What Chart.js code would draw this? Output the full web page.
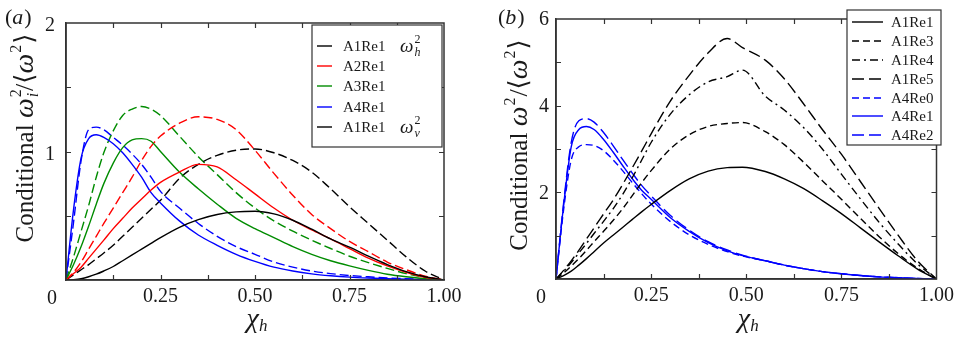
<!DOCTYPE html>
<html>
<head>
<meta charset="utf-8">
<script src="https://cdn.jsdelivr.net/npm/chart.js@4.4.1/dist/chart.umd.min.js"></script>
<style>
  body { margin: 0; background: #fff; }
  #wrap { position: relative; width: 959px; height: 339px; }
  canvas { position: absolute; top: 0; }
</style>
</head>
<body>
<div id="wrap">
  <canvas id="chartA" width="480" height="339" style="left:0"></canvas>
  <canvas id="chartB" width="479" height="339" style="left:480px"></canvas>
</div>
<script>
// panel (a): x grid and conditional enstrophy curves
const chiA = [0, 0.02, 0.04, 0.06, 0.08, 0.1, 0.125, 0.15, 0.175, 0.2, 0.225, 0.25, 0.3, 0.35, 0.4, 0.45, 0.5, 0.55, 0.6, 0.65, 0.7, 0.75, 0.8, 0.85, 0.9, 0.95, 1];
const a1Re1H = [0, 0.003, 0.01, 0.025, 0.045, 0.07, 0.105, 0.15, 0.195, 0.24, 0.285, 0.33, 0.41, 0.47, 0.51, 0.53, 0.535, 0.515, 0.465, 0.395, 0.32, 0.255, 0.185, 0.12, 0.065, 0.025, 0];
const a2Re1H = [0, 0.05, 0.1, 0.17, 0.24, 0.31, 0.4, 0.48, 0.56, 0.63, 0.7, 0.76, 0.84, 0.9, 0.88, 0.78, 0.67, 0.56, 0.465, 0.39, 0.32, 0.245, 0.17, 0.11, 0.06, 0.02, 0];
const a3Re1H = [0, 0.12, 0.26, 0.42, 0.59, 0.75, 0.91, 1.03, 1.09, 1.1, 1.08, 1.0, 0.84, 0.71, 0.59, 0.48, 0.4, 0.33, 0.26, 0.2, 0.15, 0.11, 0.075, 0.045, 0.025, 0.01, 0];
const a4Re1H = [0, 0.55, 0.95, 1.1, 1.13, 1.11, 1.06, 0.99, 0.9, 0.8, 0.68, 0.6, 0.46, 0.35, 0.27, 0.2, 0.145, 0.1, 0.07, 0.048, 0.033, 0.022, 0.015, 0.01, 0.006, 0.003, 0];
const a1Re1V = [0, 0.04, 0.08, 0.12, 0.165, 0.21, 0.27, 0.34, 0.41, 0.48, 0.55, 0.62, 0.79, 0.9, 0.97, 1.01, 1.02, 0.99, 0.93, 0.84, 0.71, 0.57, 0.44, 0.31, 0.18, 0.07, 0];
const a2Re1V = [0, 0.06, 0.14, 0.24, 0.34, 0.44, 0.56, 0.68, 0.8, 0.93, 1.04, 1.12, 1.22, 1.27, 1.25, 1.17, 1.01, 0.83, 0.66, 0.51, 0.4, 0.3, 0.22, 0.14, 0.08, 0.03, 0];
const a3Re1V = [0, 0.18, 0.38, 0.58, 0.8, 0.99, 1.16, 1.28, 1.33, 1.35, 1.33, 1.28, 1.12, 0.96, 0.82, 0.68, 0.56, 0.46, 0.38, 0.31, 0.245, 0.185, 0.135, 0.09, 0.05, 0.02, 0];
const a4Re1V = [0, 0.45, 0.93, 1.17, 1.19, 1.17, 1.11, 1.05, 0.98, 0.9, 0.8, 0.69, 0.56, 0.44, 0.34, 0.26, 0.2, 0.14, 0.1, 0.07, 0.05, 0.035, 0.025, 0.015, 0.01, 0.005, 0];

// panel (b): x grid and curves for several Re
const chiB = [0, 0.02, 0.04, 0.06, 0.08, 0.1, 0.125, 0.15, 0.175, 0.2, 0.225, 0.25, 0.3, 0.35, 0.4, 0.45, 0.49, 0.55, 0.6, 0.65, 0.7, 0.75, 0.8, 0.85, 0.9, 0.95, 1];
const b1Re1 = [0, 0.08, 0.18, 0.32, 0.47, 0.63, 0.83, 1.01, 1.19, 1.37, 1.55, 1.72, 2.04, 2.31, 2.49, 2.57, 2.58, 2.48, 2.31, 2.09, 1.81, 1.51, 1.18, 0.85, 0.53, 0.23, 0];
const b1Re3 = [0, 0.14, 0.3, 0.47, 0.66, 0.86, 1.1, 1.35, 1.62, 1.92, 2.22, 2.5, 3.0, 3.33, 3.52, 3.59, 3.61, 3.4, 3.1, 2.7, 2.27, 1.84, 1.4, 0.97, 0.58, 0.25, 0];
const b1Re4 = [0, 0.18, 0.38, 0.6, 0.82, 1.05, 1.33, 1.62, 1.95, 2.33, 2.74, 3.15, 3.8, 4.25, 4.55, 4.67, 4.82, 4.22, 3.9, 3.5, 3.0, 2.42, 1.85, 1.3, 0.8, 0.35, 0];
const b1Re5 = [0, 0.2, 0.42, 0.66, 0.92, 1.18, 1.5, 1.82, 2.18, 2.56, 2.95, 3.35, 4.1, 4.7, 5.22, 5.55, 5.34, 5.05, 4.62, 4.05, 3.45, 2.88, 2.25, 1.62, 1.0, 0.42, 0];
const b4Re0 = [0, 1.6, 2.75, 3.05, 3.1, 3.08, 2.96, 2.75, 2.5, 2.23, 1.97, 1.73, 1.33, 1.02, 0.8, 0.63, 0.53, 0.42, 0.32, 0.24, 0.17, 0.12, 0.08, 0.05, 0.03, 0.01, 0];
const b4Re1 = [0, 1.7, 3.05, 3.45, 3.52, 3.45, 3.22, 2.93, 2.62, 2.32, 2.05, 1.84, 1.42, 1.1, 0.84, 0.65, 0.54, 0.42, 0.32, 0.24, 0.17, 0.12, 0.08, 0.05, 0.03, 0.01, 0];
const b4Re2 = [0, 1.75, 3.15, 3.65, 3.7, 3.62, 3.38, 3.08, 2.76, 2.45, 2.16, 1.92, 1.47, 1.13, 0.86, 0.67, 0.55, 0.42, 0.32, 0.24, 0.17, 0.12, 0.08, 0.05, 0.03, 0.01, 0];

const serif = '"Liberation Serif", "DejaVu Serif", serif';
const ink = '#1a1a1a';

function points(xs, ys) {
    return xs.map((x, i) => ({x: x, y: ys[i]}));
}

function series(label, xs, ys, color, dash, width) {
    return {
        label: label,
        data: points(xs, ys),
        borderColor: color,
        borderDash: dash,
        borderWidth: width,
        pointRadius: 0,
        cubicInterpolationMode: 'monotone',
        fill: false
    };
}

// draws a run of text pieces, each with its own font and vertical shift
function drawPieces(ctx, pieces, x, y) {
    let cx = x;
    pieces.forEach(p => {
        ctx.font = p.font;
        ctx.fillText(p.t, cx, y + (p.dy || 0));
        if (!p.stack) cx += ctx.measureText(p.t).width + (p.gap || 0);
    });
    return cx - x;
}

function piecesWidth(ctx, pieces) {
    let w = 0;
    pieces.forEach(p => {
        ctx.font = p.font;
        if (!p.stack) w += ctx.measureText(p.t).width + (p.gap || 0);
    });
    return w;
}

function ital(size) { return 'italic ' + size + 'px ' + serif; }
function rom(size) { return size + 'px ' + serif; }

// frame, inward ticks, titles, legend
const decorations = {
    id: 'decorations',
    afterDraw(chart) {
        const o = chart.options.plugins.decorations;
        const ctx = chart.ctx;
        const a = chart.chartArea;
        const xs = chart.scales.x, ys = chart.scales.y;
        ctx.save();
        ctx.strokeStyle = '#333';
        ctx.lineWidth = 1.5;
        ctx.strokeRect(a.left, a.top, a.right - a.left, a.bottom - a.top);

        ctx.lineWidth = 1.2;
        ctx.beginPath();
        for (let v = 0.125; v < 1; v += 0.125) {
            const px = Math.round(xs.getPixelForValue(v)) + 0.5;
            ctx.moveTo(px, a.bottom); ctx.lineTo(px, a.bottom - 5);
            ctx.moveTo(px, a.top); ctx.lineTo(px, a.top + 5);
        }
        for (let v = o.yStep; v < ys.max - 1e-9; v += o.yStep) {
            const py = Math.round(ys.getPixelForValue(v)) + 0.5;
            ctx.moveTo(a.left, py); ctx.lineTo(a.left + 5, py);
            ctx.moveTo(a.right, py); ctx.lineTo(a.right - 5, py);
        }
        ctx.stroke();

        ctx.fillStyle = ink;
        ctx.textBaseline = 'alphabetic';

        // corner zero
        ctx.font = rom(20);
        ctx.textAlign = 'center';
        ctx.fillText('0', a.left - o.zeroShift, a.bottom + 24);
        ctx.textAlign = 'left';

        // panel label
        drawPieces(ctx, [
            {t: '(', font: rom(22)},
            {t: o.panel, font: ital(22), gap: 1},
            {t: ')', font: rom(22)}
        ], o.panelX, 24);

        // x title
        const xt = [
            {t: 'χ', font: ital(28)},
            {t: 'h', font: ital(17), dy: 4}
        ];
        const cxm = (a.left + a.right) / 2;
        drawPieces(ctx, xt, cxm - piecesWidth(ctx, xt) / 2 + 2, 327);

        // y title, rotated
        const yt = [{t: 'Conditional ', font: rom(25)}, {t: 'ω', font: ital(28), gap: 1}];
        if (o.subI) {
            yt.push({t: '2', font: rom(16), dy: -12, stack: true});
            yt.push({t: 'i', font: ital(16), dy: 5, gap: 2});
        } else {
            yt.push({t: '2', font: rom(16), dy: -12, gap: 1});
        }
        yt.push({t: '/⟨', font: rom(26)});
        yt.push({t: 'ω', font: ital(28), gap: 1});
        yt.push({t: '2', font: rom(16), dy: -12, gap: 1});
        yt.push({t: '⟩', font: rom(26)});
        ctx.save();
        ctx.translate(o.yTitleX, o.yTitleY);
        ctx.rotate(-Math.PI / 2);
        drawPieces(ctx, yt, -piecesWidth(ctx, yt) / 2, 0);
        ctx.restore();

        // legend box
        const L = o.legend;
        ctx.fillStyle = '#fff';
        ctx.fillRect(L.x, L.y, L.w, L.h);
        ctx.strokeStyle = '#333';
        ctx.lineWidth = 1.2;
        ctx.strokeRect(L.x, L.y, L.w, L.h);
        L.items.forEach((idx, k) => {
            const ds = chart.data.datasets[idx];
            const ry = L.rowY[k];
            ctx.strokeStyle = ds.borderColor;
            ctx.lineWidth = ds.borderWidth;
            ctx.setLineDash(L.dash ? ds.borderDash : []);
            ctx.beginPath();
            ctx.moveTo(L.x + L.s0, ry);
            ctx.lineTo(L.x + L.s0 + L.sLen, ry);
            ctx.stroke();
            ctx.setLineDash([]);
            ctx.fillStyle = ink;
            ctx.font = rom(L.font);
            ctx.textBaseline = 'middle';
            ctx.fillText(ds.label, L.x + L.t0, ry + 1);
            ctx.textBaseline = 'alphabetic';
        });
        if (L.omega) {
            L.omega.forEach(w => {
                drawPieces(ctx, [{t: 'ω', font: ital(19), gap: 1},
                    {t: '2', font: rom(12), dy: -9, stack: true},
                    {t: w.sub, font: ital(12), dy: 4}], L.x + w.x, w.y);
            });
        }
        ctx.restore();
    }
};

function axisOptions(ymax, ystep, labelY, yWidth, xHeight, yPad, yShift) {
    return {
        x: {
            type: 'linear', min: 0, max: 1,
            afterBuildTicks: s => { s.ticks = [0, 0.125, 0.25, 0.375, 0.5, 0.625, 0.75, 0.875, 1].map(v => ({value: v})); },
            afterFit: s => { s.height = xHeight; },
            grid: {display: false, drawTicks: false},
            border: {display: true, color: '#333', width: 1.5},
            ticks: {
                autoSkip: false, maxRotation: 0, padding: 5, color: ink,
                font: {family: serif, size: 20},
                callback: v => ({0.25: '0.25', 0.5: '0.50', 0.75: '0.75', 1: '1.00'}[v] || '')
            }
        },
        y: {
            type: 'linear', min: 0, max: ymax,
            afterBuildTicks: s => {
                const t = [];
                for (let v = 0; v <= ymax + 1e-9; v += ystep) t.push({value: v});
                s.ticks = t;
            },
            afterFit: s => { s.width = yWidth; },
            grid: {display: false, drawTicks: false},
            border: {display: true, color: '#333', width: 1.5},
            ticks: {
                autoSkip: false, padding: yPad, color: ink, labelOffset: yShift,
                font: {family: serif, size: 20},
                callback: v => (labelY.includes(v) ? String(v) : '')
            }
        }
    };
}

function createPanelA() {
    const ctx = document.getElementById('chartA').getContext('2d');
    return new Chart(ctx, {
        type: 'line',
        data: {
            datasets: [
                series('A1Re1', chiA, a1Re1H, '#000000', [], 1.4),
                series('A2Re1', chiA, a2Re1H, '#ff0000', [], 1.4),
                series('A3Re1', chiA, a3Re1H, '#008c00', [], 1.4),
                series('A4Re1', chiA, a4Re1H, '#0000ff', [], 1.4),
                series('A1Re1', chiA, a1Re1V, '#000000', [9, 4], 1.4),
                series('A2Re1', chiA, a2Re1V, '#ff0000', [9, 4], 1.4),
                series('A3Re1', chiA, a3Re1V, '#008c00', [9, 4], 1.4),
                series('A4Re1', chiA, a4Re1V, '#0000ff', [9, 4], 1.4)
            ]
        },
        options: {
            responsive: false, animation: false,
            layout: {padding: {top: 16, right: 36, left: 0, bottom: 0}},
            scales: axisOptions(2, 0.5, [1, 2], 66, 59, 11, 3),
            plugins: {
                legend: {display: false}, tooltip: {enabled: false},
                decorations: {
                    panel: 'a', panelX: 5, yStep: 0.5, zeroShift: 14, subI: true,
                    yTitleX: 33, yTitleY: 138,
                    legend: {
                        x: 312, y: 25, w: 130, h: 122, s0: 5, sLen: 15, t0: 31, font: 15,
                        items: [0, 1, 2, 3, 4], rowY: [46, 66, 86, 107, 127], dash: false,
                        omega: [{sub: 'h', x: 88, y: 52}, {sub: 'v', x: 88, y: 133}]
                    }
                }
            }
        },
        plugins: [decorations]
    });
}

function createPanelB() {
    const ctx = document.getElementById('chartB').getContext('2d');
    return new Chart(ctx, {
        type: 'line',
        data: {
            datasets: [
                series('A1Re1', chiB, b1Re1, '#000000', [], 1.4),
                series('A1Re3', chiB, b1Re3, '#000000', [7, 4], 1.4),
                series('A1Re4', chiB, b1Re4, '#000000', [8, 4, 2, 4], 1.4),
                series('A1Re5', chiB, b1Re5, '#000000', [12, 5], 1.4),
                series('A4Re0', chiB, b4Re0, '#0000ff', [7, 4], 1.4),
                series('A4Re1', chiB, b4Re1, '#0000ff', [], 1.4),
                series('A4Re2', chiB, b4Re2, '#0000ff', [12, 5], 1.4)
            ]
        },
        options: {
            responsive: false, animation: false,
            layout: {padding: {top: 10, right: 18, left: 0, bottom: 0}},
            scales: axisOptions(6, 1, [2, 4, 6], 76, 60, 7, 1),
            plugins: {
                legend: {display: false}, tooltip: {enabled: false},
                decorations: {
                    panel: 'b', panelX: 18, yStep: 1, zeroShift: 15, subI: false,
                    yTitleX: 47, yTitleY: 145,
                    legend: {
                        x: 367, y: 10, w: 94, h: 135, s0: 5, sLen: 31, t0: 44, font: 15,
                        items: [0, 1, 2, 3, 4, 5, 6], rowY: [22, 41, 60, 79, 98, 116, 135], dash: true
                    }
                }
            }
        },
        plugins: [decorations]
    });
}

createPanelA();
createPanelB();
</script>
</body>
</html>
